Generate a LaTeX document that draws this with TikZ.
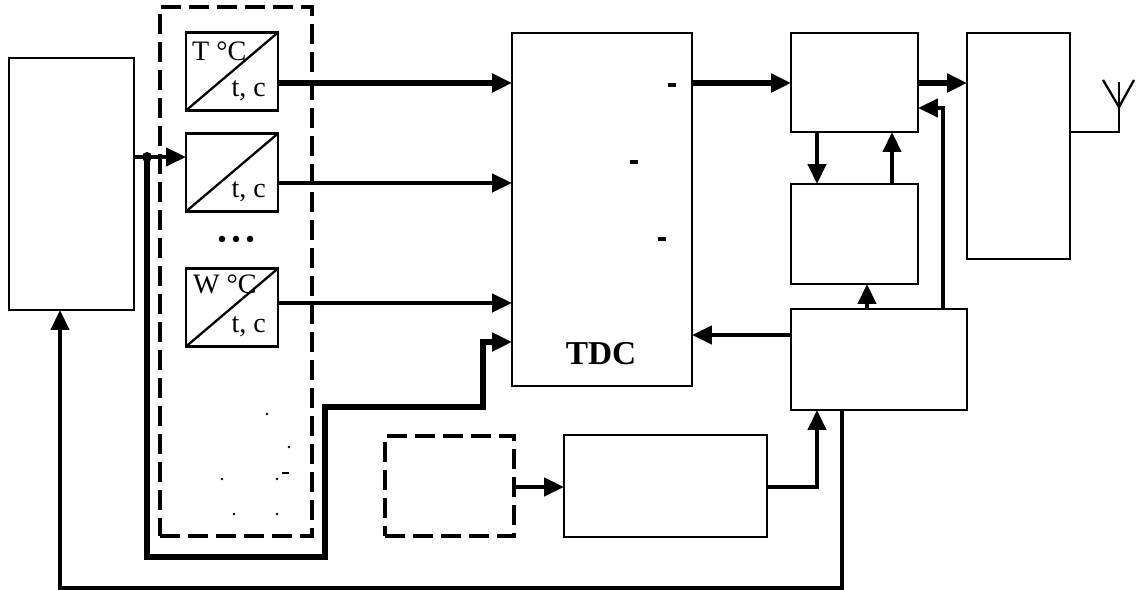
\documentclass[tikz,border=0pt]{standalone}
\usepackage{fontspec}
\setmainfont{Liberation Serif}
\usetikzlibrary{arrows.meta, calc, positioning}

\begin{document}
\begin{tikzpicture}[x=0.02cm, y=-0.02cm, >={Triangle[length=0.4cm, width=0.36cm]}, line width=1.3pt,
    blk/.style={draw, line width=1.3pt, inner sep=0pt, outer sep=0pt},
    dblk/.style={blk, line width=2.3pt, dash pattern=on 0.4cm off 0.16cm},
    conv/.style={blk, minimum width=1.84cm, minimum height=1.56cm},
    bus/.style={line width=3.8pt},
    sig/.style={line width=2.5pt},
    lbl/.style={font=\fontsize{16}{16}\selectfont, inner sep=0pt}]
    \useasboundingbox (0,0) rectangle (1137,590);

    % blocks
    \node[blk, minimum width=2.5cm, minimum height=5.04cm] (src) at (71.5,184) {};
    \node[dblk, minimum width=3.04cm, minimum height=10.58cm] (grp) at (236,271.5) {};
    \node[conv] (c1) at (232,71.5) {};
    \node[conv] (c2) at (232,172.5) {};
    \node[conv] (c3) at (232,307.5) {};
    \node[blk, minimum width=3.6cm, minimum height=7.06cm] (tdc) at (602,209.5) {};
    \node[blk, minimum width=2.54cm, minimum height=1.98cm] (mod) at (854.5,82.5) {};
    \node[blk, minimum width=2.54cm, minimum height=2.0cm] (mem) at (854.5,234) {};
    \node[blk, minimum width=3.52cm, minimum height=2.02cm] (ctrl) at (879,359.5) {};
    \node[blk, minimum width=2.06cm, minimum height=4.52cm] (tx) at (1018.5,146) {};
    \node[dblk, minimum width=2.58cm, minimum height=2.0cm] (ext) at (449.5,486) {};
    \node[blk, minimum width=4.06cm, minimum height=2.04cm] (pwr) at (665.5,486) {};

    % converters
    \foreach \c in {c1,c2,c3}{
        \draw (\c.south west) -- (\c.north east);
        \node[lbl, anchor=base east] at ($(\c.south east)+(-11,-14)$) {t, c};
    }
    \node[lbl, anchor=base west] (tlbl) at ($(c1.north west)+(5,28)$) {T °C};
    \node[lbl, anchor=base west] (wlbl) at ($(c3.north west)+(6,25)$) {W °C};
    \foreach \x in {222,236,250} \fill (\x,239) circle (0.065cm);
    \foreach \p in {(267,414),(289,447),(222,479),(277,479),(234,514),(277,514)}
        \fill \p circle (0.028cm);
    \draw[line width=0.7pt] (282,473) -- (289,473);

    \node[font=\bfseries\fontsize{19}{19}\selectfont, inner sep=0pt, anchor=base] (tdclbl) at (601,365) {TDC};
    \foreach \x/\y in {672/85, 634/162, 662/239}
        \fill (\x-4,\y-2) rectangle (\x+4,\y+2);

    % connections
    \coordinate (jn) at (147,157);
    \draw[sig, ->] (src.east |- jn) -- (c2.west |- jn);
    \fill (jn) circle (0.1cm);
    \draw[sig, line width=3pt, ->] (jn) |- (325,557) |- (483,407) |- (tdc.west |- 0,342);
    \draw[bus, ->] (c1.east |- 0,83) -- (tdc.west |- 0,83);
    \draw[sig, ->] (c2.east |- 0,183) -- (tdc.west |- 0,183);
    \draw[sig, ->] (c3.east |- 0,303) -- (tdc.west |- 0,303);
    \draw[bus, ->] (tdc.east |- 0,83) -- (mod.west |- 0,83);
    \draw[bus, ->] (mod.east |- 0,83) -- (tx.west |- 0,83);
    \draw[sig, ->] (mod.south -| 817,0) -- (mem.north -| 817,0);
    \draw[sig, ->] (mem.north -| 892,0) -- (mod.south -| 892,0);
    \draw[sig, ->] (ctrl.north -| 867,0) -- (mem.south -| 867,0);
    \draw[sig, ->] (ctrl.north -| 943,0) |- (mod.east |- 0,108);
    \draw[sig, ->] (ctrl.west |- 0,335) -- (tdc.east |- 0,335);
    \draw[sig, ->] (ext.east |- 0,487) -- (pwr.west |- 0,487);
    \draw[sig, ->] (pwr.east |- 0,487) -| (ctrl.south -| 817,0);
    \draw[sig, ->] (ctrl.south -| 842,0) |- (60,588) -- (src.south -| 60,0);

    % antenna
    \draw (tx.east |- 0,132) -| (1119,82);
    \draw (1103,80) -- (1119,107) -- (1134,80);
\end{tikzpicture}
\end{document}
